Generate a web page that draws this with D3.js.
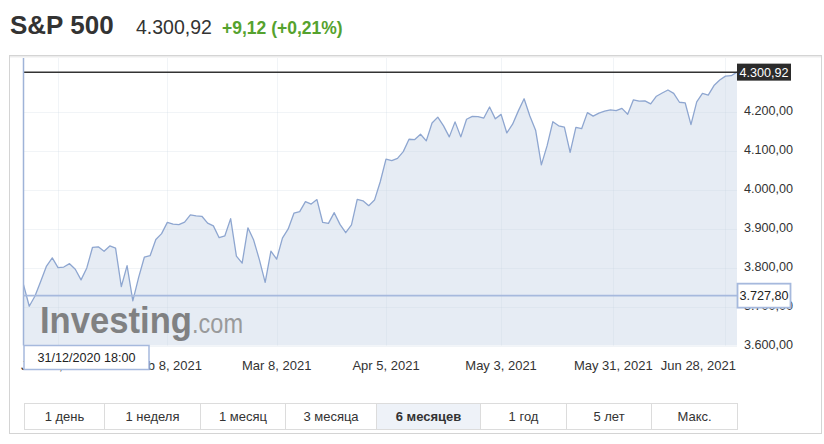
<!DOCTYPE html>
<html><head><meta charset="utf-8">
<script src="https://cdn.jsdelivr.net/npm/d3@7"></script>
<style>body{margin:0;background:#fff}svg{display:block;font-family:Arial,"Liberation Sans",sans-serif}</style>
</head><body><svg id="c" width="824" height="444"></svg>
<script>
// ---- data ----
const title = "S&P 500";
const lastValue = 4300.92;
const changeText = "+9,12 (+0,21%)";
const cursorValue = 3727.80;
const cursorLabel = "31/12/2020 18:00";

const tradingDays = [
  ["2020-12", [31]],
  ["2021-01", [4,5,6,7,8,11,12,13,14,15,19,20,21,22,25,26,27,28,29]],
  ["2021-02", [1,2,3,4,5,8,9,10,11,12,16,17,18,19,22,23,24,25,26]],
  ["2021-03", [1,2,3,4,5,8,9,10,11,12,15,16,17,18,19,22,23,24,25,26,29,30,31]],
  ["2021-04", [1,5,6,7,8,9,12,13,14,15,16,19,20,21,22,23,26,27,28,29,30]],
  ["2021-05", [3,4,5,6,7,10,11,12,13,14,17,18,19,20,21,24,25,26,27,28]],
  ["2021-06", [1,2,3,4,7,8,9,10,11,14,15,16,17,18,21,22,23,24,25,28,29,30]]
];
const valuesDec = [3756.07];
const valuesJan = [3700.65,3726.86,3765.0,3803.79,3824.68,3799.61,3801.19,3809.84,3795.54,3768.25,3798.91,3851.85,3853.07,3841.47,3855.36,3849.62,3750.77,3805.0,3714.24];
const valuesFeb = [3773.86,3826.31,3830.17,3871.74,3886.83,3915.59,3911.23,3909.88,3916.38,3934.83,3932.59,3931.33,3913.97,3906.71,3876.50,3881.37,3925.43,3829.34,3811.15];
const valuesMar = [3901.82,3870.29,3819.72,3762.0,3841.94,3821.35,3875.44,3898.81,3939.34,3943.34,3968.94,3962.71,3974.12,3915.46,3913.10,3940.59,3910.52,3889.14,3909.52,3974.54,3971.09,3958.55,3972.89];
const valuesApr = [4019.87,4077.91,4073.94,4079.95,4097.17,4128.80,4127.99,4141.59,4124.66,4170.42,4185.47,4163.26,4134.94,4173.42,4134.98,4180.17,4187.62,4186.72,4183.18,4211.47,4181.17];
const valuesMay = [4192.66,4145.0,4167.59,4201.62,4232.60,4188.43,4152.10,4063.04,4112.50,4173.85,4163.29,4160.0,4095.0,4159.12,4155.86,4197.05,4188.13,4195.99,4200.88,4204.11];
const valuesJun = [4202.04,4208.12,4192.85,4229.89,4226.52,4227.26,4219.55,4239.18,4247.44,4255.15,4246.59,4223.70,4221.86,4166.45,4224.79,4246.44,4241.84,4266.49,4280.70,4290.61,4291.80,4300.92];

const xTickDates = ["2021-01-11","2021-02-08","2021-03-08","2021-04-05","2021-05-03","2021-05-31","2021-06-28"];
const xTickLabels = ["Jan 11, 2021","Feb 8, 2021","Mar 8, 2021","Apr 5, 2021","May 3, 2021","May 31, 2021","Jun 28, 2021"];
const yTicks = [3600,3700,3800,3900,4000,4100,4200];
const rangeButtons = ["1 день","1 неделя","1 месяц","3 месяца","6 месяцев","1 год","5 лет","Макс."];
const selectedButton = "6 месяцев";

// ---- build ----
const dates = [];
tradingDays.forEach(([m, ds]) => ds.forEach(d => dates.push(m + "-" + String(d).padStart(2, "0"))));
const values = [].concat(valuesDec, valuesJan, valuesFeb, valuesMar, valuesApr, valuesMay, valuesJun);
const data = dates.map((d, i) => ({i, d, v: values[i]}));

const loc = d3.formatLocale({decimal: ",", thousands: ".", grouping: [3], currency: ["", ""]});
const fmt = loc.format(",.2f");

const svg = d3.select("#c");
const W = 824, H = 444;
const L = 23.5, R = 737, T = 58, B = 345.5;

const x = d3.scaleLinear().domain([0, data.length - 1]).range([L, R]);
const y = d3.scaleLinear().domain([3600, 4300]).range([345.5, 72.5]);

function tickPos(dt) {
  let i = d3.bisectLeft(dates, dt);
  if (dates[i] !== dt) i -= 0.5;
  return x(i);
}

// header
svg.append("text").attr("x", 10).attr("y", 34).attr("font-size", 26).attr("font-weight", "bold")
  .attr("fill", "#333").text(title);
svg.append("text").attr("x", 136).attr("y", 34).attr("font-size", 19.5).attr("fill", "#333").text(fmt(lastValue));
svg.append("text").attr("x", 222).attr("y", 34).attr("font-size", 17.5).attr("font-weight", "bold")
  .attr("fill", "#55a22e").text(changeText);

// container
svg.append("rect").attr("x", 9.5).attr("y", 55.5).attr("width", 812).attr("height", 378)
  .attr("fill", "none").attr("stroke", "#d4d4d4");
svg.append("line").attr("x1", 10).attr("x2", 821).attr("y1", 56.5).attr("y2", 56.5).attr("stroke", "#ececec");
svg.append("line").attr("x1", 10).attr("x2", 821).attr("y1", 57.5).attr("y2", 57.5).attr("stroke", "#f6f6f6");

// grid
const g = svg.append("g");
g.selectAll(".vg").data(xTickDates).enter().append("line")
  .attr("x1", d => Math.round(tickPos(d)) + 0.5).attr("x2", d => Math.round(tickPos(d)) + 0.5)
  .attr("y1", T).attr("y2", B).attr("stroke", "#f1f3f6");
g.selectAll(".hg").data(yTicks).enter().append("line")
  .attr("x1", L).attr("x2", R)
  .attr("y1", d => Math.round(y(d)) + 0.5).attr("y2", d => Math.round(y(d)) + 0.5).attr("stroke", "#f1f3f6");

// area
const area = d3.area().x(d => x(d.i)).y0(y(3600)).y1(d => y(d.v));
svg.append("path").datum(data).attr("d", area).attr("fill", "#e6ecf4");

// grid over area (subtle)
g.raise();
g.selectAll("line").attr("stroke", "rgba(200,210,225,0.25)");

// watermark
const wm = svg.append("g").attr("opacity", 0.85);
wm.append("text").attr("x", 40).attr("y", 333).attr("font-size", 37).attr("font-weight", "bold")
  .attr("fill", "#6f6f6f").attr("textLength", 152).attr("lengthAdjust", "spacingAndGlyphs").text("Investing");
wm.append("text").attr("x", 192).attr("y", 333).attr("font-size", 27)
  .attr("fill", "#8c8c8c").attr("textLength", 51).attr("lengthAdjust", "spacingAndGlyphs").text(".com");

// line
const line = d3.line().x(d => x(d.i)).y(d => y(d.v));
svg.append("path").datum(data).attr("d", line).attr("fill", "none")
  .attr("stroke", "#8ea6d0").attr("stroke-width", 1.3).attr("stroke-linejoin", "round");

// last value line
svg.append("line").attr("x1", L).attr("x2", R).attr("y1", y(lastValue)).attr("y2", y(lastValue))
  .attr("stroke", "#333").attr("stroke-width", 1.5);

// crosshair
svg.append("line").attr("x1", L).attr("x2", L).attr("y1", T).attr("y2", B)
  .attr("stroke", "#9fb3d8").attr("stroke-width", 1.5);
svg.append("line").attr("x1", L).attr("x2", R).attr("y1", y(cursorValue)).attr("y2", y(cursorValue))
  .attr("stroke", "#a6b9dd").attr("stroke-width", 1.8);

// y axis labels
svg.selectAll(".yl").data(yTicks).enter().append("text")
  .attr("x", 744).attr("y", d => y(d) + 3).attr("font-size", 12.6).attr("fill", "#333").text(d => fmt(d));

// x axis labels
svg.selectAll(".xl").data(xTickDates).enter().append("text")
  .attr("font-size", 13).attr("fill", "#333").attr("y", 369.5)
  .each(function(d, i) {
    const t = d3.select(this).text(xTickLabels[i]);
    const cx = tickPos(d);
    const w = this.getComputedTextLength();
    if (cx + w / 2 > R - 1) t.attr("x", R - 1).attr("text-anchor", "end");
    else t.attr("x", cx).attr("text-anchor", "middle");
  });

// last value box
const ly = y(lastValue);
svg.append("rect").attr("x", 737).attr("y", ly - 8.5).attr("width", 54).attr("height", 17).attr("fill", "#2b2b2b");
svg.append("text").attr("x", 764).attr("y", ly + 4.5).attr("text-anchor", "middle").attr("font-size", 12.6)
  .attr("fill", "#fff").text(fmt(lastValue));

// cursor value box
const cy = y(cursorValue);
svg.append("rect").attr("x", 737.5).attr("y", cy - 12).attr("width", 53).attr("height", 24)
  .attr("fill", "#fff").attr("stroke", "#a6b9dd").attr("stroke-width", 1.8);
svg.append("text").attr("x", 764).attr("y", cy + 4.5).attr("text-anchor", "middle").attr("font-size", 12.6)
  .attr("fill", "#222").text(fmt(cursorValue));

// cursor date box
svg.append("rect").attr("x", 24).attr("y", 345.5).attr("width", 125).attr("height", 24)
  .attr("fill", "#fff").attr("stroke", "#a6b9dd").attr("stroke-width", 1.5);
svg.append("text").attr("x", 86.5).attr("y", 362).attr("text-anchor", "middle").attr("font-size", 12.6)
  .attr("fill", "#222").text(cursorLabel);

// range buttons
const edges = [24, 104, 200, 285, 376, 480, 566, 651, 737];
const bg = svg.append("g");
rangeButtons.forEach((b, i) => {
  const sel = b === selectedButton;
  bg.append("rect").attr("x", edges[i] + 0.5).attr("y", 403.5).attr("width", edges[i + 1] - edges[i]).attr("height", 26)
    .attr("fill", sel ? "#eef2f8" : "#fff").attr("stroke", "#dcdcdc");
  bg.append("text").attr("x", (edges[i] + edges[i + 1]) / 2 + 0.5).attr("y", 421).attr("text-anchor", "middle")
    .attr("font-size", 13).attr("font-weight", sel ? "bold" : "normal").attr("fill", "#333").text(b);
});
</script></body></html>
